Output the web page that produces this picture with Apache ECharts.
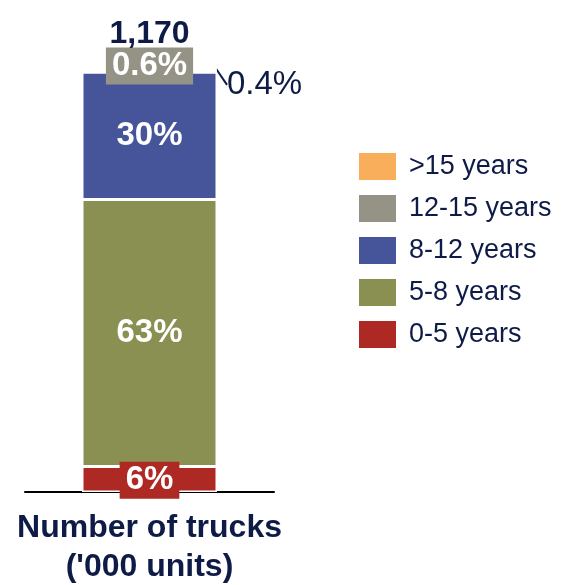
<!DOCTYPE html>
<html>
<head>
<meta charset="utf-8">
<script src="https://cdn.jsdelivr.net/npm/echarts@6/dist/echarts.min.js"></script>
<style>
  html, body { margin: 0; padding: 0; background: #fff; }
  #chart { width: 561px; height: 585px; }
</style>
</head>
<body>
<div id="chart"></div>
<script>
// data
const categories = ["Number of trucks\n('000 units)"]
const ageGroups = ['0-5 years', '5-8 years', '8-12 years', '12-15 years', '>15 years']
const shares = [6, 63, 30, 0.6, 0.4]          // % of fleet
const shareLabels = ['6%', '63%', '30%', '0.6%', '0.4%']
const totalLabel = '1,170'
const colors = ['#AE2824', '#899052', '#46549A', '#959385', '#F9AE5B']

const navy = '#0E1B47'
const font = "'Liberation Sans', Arial, sans-serif"

const chart = echarts.init(document.getElementById('chart'))

// 每个年龄段一个系列，堆叠成一根柱子
const series = ageGroups.map((name, i) => {
  const s = {
    name: name,
    type: 'bar',
    stack: 'fleet',
    barWidth: 135,
    data: [shares[i]],
    itemStyle: { color: colors[i], borderColor: '#fff', borderWidth: 1.5 },
    label: {
      show: true,
      position: 'inside',
      formatter: shareLabels[i],
      color: '#fff',
      fontFamily: font,
      fontWeight: 'bold',
      fontSize: 33
    }
  }
  if (i === 0) {
    // 6% label sits in a red box on the baseline
    s.label.backgroundColor = colors[0]
    s.label.padding = [2, 6, 2, 6]
    s.label.offset = [0, 1]
  }
  if (i === 3) {
    s.label.backgroundColor = colors[3]
    s.label.padding = [2, 6, 2, 6]
    s.label.offset = [0, -5]
  }
  if (i === 4) {
    s.label.position = 'right'
    s.label.distance = 10
    s.label.color = navy
    s.label.fontWeight = 'normal'
    s.label.fontSize = 33
    s.labelLayout = { dy: 16 }
    s.labelLine = { show: true, lineStyle: { color: navy, width: 2 } }
  }
  return s
})

// 总数标签
series.push({
  name: 'Total',
  type: 'bar',
  stack: 'fleet',
  barWidth: 135,
  data: [0],
  itemStyle: { color: 'transparent' },
  label: {
    show: true,
    position: 'top',
    distance: 18,
    formatter: totalLabel,
    color: navy,
    fontFamily: font,
    fontWeight: 'bold',
    fontSize: 32
  }
})

const option = {
  animation: false,
  grid: { left: 25, right: 287, top: 68, bottom: 93, outerBoundsMode: 'none' },
  legend: {
    data: ageGroups.slice().reverse(),
    orient: 'vertical',
    left: 354,
    top: 148,
    icon: 'rect',
    itemWidth: 37,
    itemHeight: 27,
    itemGap: 15,
    itemStyle: { borderWidth: 0 },
    textStyle: { color: navy, fontFamily: font, fontSize: 27, padding: [0, 0, 0, 8] }
  },
  xAxis: {
    type: 'category',
    data: categories,
    axisLine: { lineStyle: { color: '#000', width: 2 } },
    axisTick: { show: false },
    axisLabel: {
      margin: 17,
      color: navy,
      fontFamily: font,
      fontWeight: 'bold',
      fontSize: 32,
      lineHeight: 39
    }
  },
  yAxis: {
    type: 'value',
    min: 0,
    max: 100,
    show: false
  },
  series: series
}

chart.setOption(option)
</script>
</body>
</html>
